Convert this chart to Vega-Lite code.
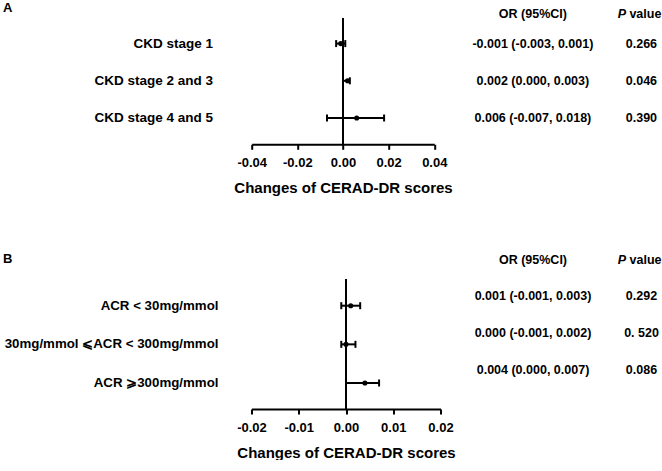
{
  "$schema": "https://vega.github.io/schema/vega-lite/v6.json",
  "padding": {"left": 0, "top": 2, "right": 0, "bottom": 0},
  "background": "white",
  "config": {"view": {"stroke": null}, "font": "Liberation Sans"},
  "datasets": {
    "ckd": [
      {"group": "CKD stage 1", "row": 1, "est": -0.001, "lo": -0.003, "hi": 0.001, "or": "-0.001 (-0.003, 0.001)", "p": "0.266"},
      {"group": "CKD stage 2 and 3", "row": 2, "est": 0.002, "lo": 0.000, "hi": 0.003, "or": "0.002 (0.000, 0.003)", "p": "0.046"},
      {"group": "CKD stage 4 and 5", "row": 3, "est": 0.006, "lo": -0.007, "hi": 0.018, "or": "0.006 (-0.007, 0.018)", "p": "0.390"}
    ],
    "acr": [
      {"group": "ACR < 30mg/mmol", "row": 1, "est": 0.001, "lo": -0.001, "hi": 0.003, "or": "0.001 (-0.001, 0.003)", "p": "0.292"},
      {"group": "30mg/mmol ⩽ACR < 300mg/mmol", "row": 2, "est": 0.000, "lo": -0.001, "hi": 0.002, "or": "0.000 (-0.001, 0.002)", "p": "0. 520"},
      {"group": "ACR ⩾300mg/mmol", "row": 3, "est": 0.004, "lo": 0.000, "hi": 0.007, "or": "0.004 (0.000, 0.007)", "p": "0.086"}
    ]
  },
  "spacing": 56,
  "vconcat": [
    {
      "data": {"name": "ckd"},
      "bounds": "flush",
      "spacing": 38.7,
      "hconcat": [
        {
          "width": 213, "height": 126.3,
          "title": {"text": "A", "anchor": "start", "frame": "group", "offset": 0, "dy": 7, "baseline": "alphabetic", "dx": 3, "fontSize": 13, "fontWeight": "bold", "color": "black"},
          "mark": {"type": "text", "align": "right", "baseline": "middle", "fontSize": 13.5, "fontWeight": "bold", "color": "black"},
          "encoding": {
            "x": {"value": "width"},
            "y": {"field": "row", "type": "quantitative", "scale": {"domain": [0.312, 3.707], "reverse": true, "nice": false, "zero": false}, "axis": null},
            "text": {"field": "group"}
          }
        },
        {
          "width": 182.6, "height": 126.3,
          "encoding": {
            "y": {"field": "row", "type": "quantitative", "scale": {"domain": [0.312, 3.707], "reverse": true, "nice": false, "zero": false}, "axis": null}
          },
          "layer": [
            {
              "mark": {"type": "rule", "strokeWidth": 2, "color": "black"},
              "encoding": {
                "x": {"datum": 0, "type": "quantitative", "scale": {"domain": [-0.04, 0.04], "nice": false, "zero": false},
                  "axis": {"values": [-0.04, -0.02, 0, 0.02, 0.04], "labelExpr": "replace(format(datum.value, '.2f'), '−', '-')", "title": "Changes of CERAD-DR scores", "grid": false, "domainColor": "black", "domainWidth": 2, "tickColor": "black", "tickWidth": 2, "tickSize": 5, "labelFontSize": 13, "labelFontWeight": "bold", "labelColor": "black", "labelPadding": 7, "labelFlush": false, "labelOverlap": false, "titleFontSize": 15, "titleFontWeight": "bold", "titleColor": "black", "titlePadding": 11}},
                "y": null
              }
            },
            {
              "mark": {"type": "rule", "strokeWidth": 2, "color": "black"},
              "encoding": {"x": {"field": "lo", "type": "quantitative"}, "x2": {"field": "hi"}}
            },
            {
              "mark": {"type": "tick", "orient": "vertical", "size": 7, "thickness": 2, "color": "black", "opacity": 1},
              "encoding": {"x": {"field": "lo", "type": "quantitative"}}
            },
            {
              "mark": {"type": "tick", "orient": "vertical", "size": 7, "thickness": 2, "color": "black", "opacity": 1},
              "encoding": {"x": {"field": "hi", "type": "quantitative"}}
            },
            {
              "mark": {"type": "point", "shape": "circle", "filled": true, "size": 26, "color": "black", "opacity": 1},
              "encoding": {"x": {"field": "est", "type": "quantitative"}}
            }
          ]
        },
        {
          "width": 119, "height": 126.3,
          "encoding": {
            "y": {"field": "row", "type": "quantitative", "scale": {"domain": [0.312, 3.707], "reverse": true, "nice": false, "zero": false}, "axis": null}
          },
          "layer": [
            {
              "mark": {"type": "text", "baseline": "middle", "fontSize": 12.5, "fontWeight": "bold", "color": "black"},
              "encoding": {"text": {"field": "or"}}
            },
            {
              "data": {"values": [{"row": 0, "h": "OR (95%CI)"}]},
              "mark": {"type": "text", "baseline": "middle", "dy": 8, "fontSize": 12.5, "fontWeight": "bold", "color": "black"},
              "encoding": {"text": {"field": "h"}}
            }
          ]
        },
        {
          "width": 20.6, "height": 126.3,
          "encoding": {
            "y": {"field": "row", "type": "quantitative", "scale": {"domain": [0.312, 3.707], "reverse": true, "nice": false, "zero": false}, "axis": null}
          },
          "layer": [
            {
              "mark": {"type": "text", "baseline": "middle", "fontSize": 12.5, "fontWeight": "bold", "color": "black"},
              "encoding": {"text": {"field": "p"}}
            },
            {
              "data": {"values": [{"row": 0, "h": "P"}]},
              "mark": {"type": "text", "align": "left", "baseline": "middle", "dx": -23.7, "dy": 8, "fontSize": 12.5, "fontWeight": "bold", "fontStyle": "italic", "color": "black"},
              "encoding": {"text": {"field": "h"}}
            },
            {
              "data": {"values": [{"row": 0, "h": "value"}]},
              "mark": {"type": "text", "align": "left", "baseline": "middle", "dx": -12, "dy": 8, "fontSize": 12.5, "fontWeight": "bold", "color": "black"},
              "encoding": {"text": {"field": "h"}}
            }
          ]
        }
      ]
    },
    {
      "data": {"name": "acr"},
      "bounds": "flush",
      "spacing": 32.5,
      "hconcat": [
        {
          "width": 218.5, "height": 130,
          "title": {"text": "B", "anchor": "start", "frame": "group", "offset": 0, "dy": -3.5, "baseline": "alphabetic", "dx": 3, "fontSize": 13, "fontWeight": "bold", "color": "black"},
          "mark": {"type": "text", "align": "right", "baseline": "middle", "fontSize": 13.3, "fontWeight": "bold", "color": "black"},
          "encoding": {
            "x": {"value": "width"},
            "y": {"field": "row", "type": "quantitative", "scale": {"domain": [0.309, 3.673], "reverse": true, "nice": false, "zero": false}, "axis": null},
            "text": {"field": "group"}
          }
        },
        {
          "width": 189, "height": 130,
          "encoding": {
            "y": {"field": "row", "type": "quantitative", "scale": {"domain": [0.309, 3.673], "reverse": true, "nice": false, "zero": false}, "axis": null}
          },
          "layer": [
            {
              "mark": {"type": "rule", "strokeWidth": 2, "color": "black"},
              "encoding": {
                "x": {"datum": 0, "type": "quantitative", "scale": {"domain": [-0.02, 0.02], "nice": false, "zero": false},
                  "axis": {"values": [-0.02, -0.01, 0, 0.01, 0.02], "labelExpr": "replace(format(datum.value, '.2f'), '−', '-')", "title": "Changes of CERAD-DR scores", "grid": false, "domainColor": "black", "domainWidth": 2, "tickColor": "black", "tickWidth": 2, "tickSize": 5, "labelFontSize": 13, "labelFontWeight": "bold", "labelColor": "black", "labelPadding": 7, "labelFlush": false, "labelOverlap": false, "titleFontSize": 15, "titleFontWeight": "bold", "titleColor": "black", "titlePadding": 11}},
                "y": null
              }
            },
            {
              "mark": {"type": "rule", "strokeWidth": 2, "color": "black"},
              "encoding": {"x": {"field": "lo", "type": "quantitative"}, "x2": {"field": "hi"}}
            },
            {
              "mark": {"type": "tick", "orient": "vertical", "size": 7, "thickness": 2, "color": "black", "opacity": 1},
              "encoding": {"x": {"field": "lo", "type": "quantitative"}}
            },
            {
              "mark": {"type": "tick", "orient": "vertical", "size": 7, "thickness": 2, "color": "black", "opacity": 1},
              "encoding": {"x": {"field": "hi", "type": "quantitative"}}
            },
            {
              "mark": {"type": "point", "shape": "circle", "filled": true, "size": 26, "color": "black", "opacity": 1},
              "encoding": {"x": {"field": "est", "type": "quantitative"}}
            }
          ]
        },
        {
          "width": 120, "height": 130,
          "encoding": {
            "y": {"field": "row", "type": "quantitative", "scale": {"domain": [0.526, 4.068], "reverse": true, "nice": false, "zero": false}, "axis": null}
          },
          "layer": [
            {
              "mark": {"type": "text", "baseline": "middle", "fontSize": 12.5, "fontWeight": "bold", "color": "black"},
              "encoding": {"text": {"field": "or"}}
            },
            {
              "data": {"values": [{"row": 0, "h": "OR (95%CI)"}]},
              "mark": {"type": "text", "baseline": "middle", "fontSize": 12.5, "fontWeight": "bold", "color": "black"},
              "encoding": {"text": {"field": "h"}}
            }
          ]
        },
        {
          "width": 32, "height": 130,
          "encoding": {
            "y": {"field": "row", "type": "quantitative", "scale": {"domain": [0.526, 4.068], "reverse": true, "nice": false, "zero": false}, "axis": null}
          },
          "layer": [
            {
              "mark": {"type": "text", "baseline": "middle", "fontSize": 12.5, "fontWeight": "bold", "color": "black"},
              "encoding": {"text": {"field": "p"}}
            },
            {
              "data": {"values": [{"row": 0, "h": "P"}]},
              "mark": {"type": "text", "align": "left", "baseline": "middle", "dx": -23.7, "fontSize": 12.5, "fontWeight": "bold", "fontStyle": "italic", "color": "black"},
              "encoding": {"text": {"field": "h"}}
            },
            {
              "data": {"values": [{"row": 0, "h": "value"}]},
              "mark": {"type": "text", "align": "left", "baseline": "middle", "dx": -12, "fontSize": 12.5, "fontWeight": "bold", "color": "black"},
              "encoding": {"text": {"field": "h"}}
            }
          ]
        }
      ]
    }
  ]
}
